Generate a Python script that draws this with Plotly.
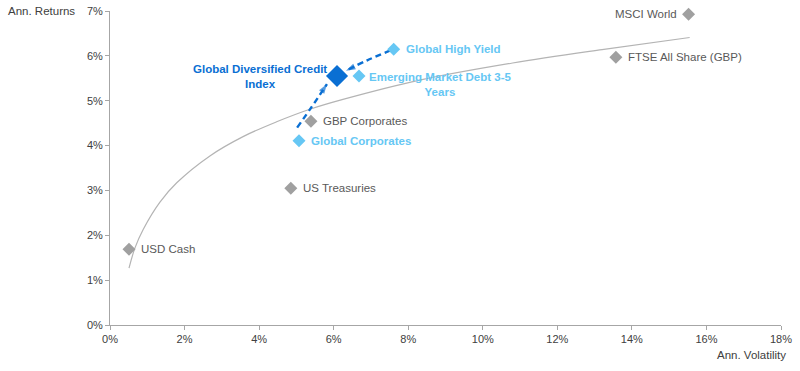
import plotly.graph_objects as go

# ---- data ----
grey_names = ["USD Cash", "US Treasuries", "GBP Corporates", "FTSE All Share (GBP)", "MSCI World"]
grey_vol = [0.51, 4.85, 5.39, 13.57, 15.52]
grey_ret = [1.69, 3.05, 4.54, 5.97, 6.93]

light_names = ["Global Corporates", "Emerging Market Debt 3-5<br>Years", "Global High Yield"]
light_vol = [5.07, 6.68, 7.61]
light_ret = [4.11, 5.55, 6.15]

gdc_name = "Global Diversified Credit<br>Index"
gdc_vol = [6.09]
gdc_ret = [5.55]

curve_vol = [0.51, 0.67, 0.89, 1.34, 1.79, 2.68, 3.57, 4.47, 5.36, 6.25, 8.31, 10.8, 13.2, 15.55]
curve_ret = [1.27, 1.72, 2.13, 2.74, 3.17, 3.77, 4.20, 4.53, 4.81, 5.03, 5.46, 5.84, 6.14, 6.41]

arrow1_vol = [5.02, 5.40, 5.82]
arrow1_ret = [4.40, 4.85, 5.37]
arrow2_vol = [7.52, 6.90, 6.33]
arrow2_ret = [6.12, 5.90, 5.67]

x_ticks = [0, 2, 4, 6, 8, 10, 12, 14, 16, 18]
y_ticks = [0, 1, 2, 3, 4, 5, 6, 7]

GREY = "#a0a0a0"
LIGHT = "#66c7f4"
DARK = "#0a6fd3"
TXT = "#595959"
FONT = "Liberation Sans, Arial, sans-serif"

fig = go.Figure()

fig.add_trace(go.Scatter(x=curve_vol, y=curve_ret, mode="lines",
                         line=dict(color="#b4b4b4", width=1.2, shape="spline", smoothing=1.0),
                         hoverinfo="skip"))

for av, ar in [(arrow1_vol, arrow1_ret), (arrow2_vol, arrow2_ret)]:
    fig.add_trace(go.Scatter(x=av, y=ar, mode="lines+markers",
                             line=dict(color=DARK, width=2.4, dash="6px,4px", shape="spline"),
                             marker=dict(symbol="arrow", angleref="previous",
                                         size=[0] * (len(av) - 1) + [10], color=DARK,
                                         line=dict(width=0)),
                             hoverinfo="skip"))

fig.add_trace(go.Scatter(x=grey_vol, y=grey_ret, mode="markers", cliponaxis=False,
                         marker=dict(symbol="diamond", size=10, color=GREY, line=dict(width=0))))
fig.add_trace(go.Scatter(x=light_vol, y=light_ret, mode="markers", cliponaxis=False,
                         marker=dict(symbol="diamond", size=10, color=LIGHT, line=dict(width=0))))
fig.add_trace(go.Scatter(x=gdc_vol, y=gdc_ret, mode="markers", cliponaxis=False,
                         marker=dict(symbol="diamond", size=17, color=DARK, line=dict(width=0))))

# labels
for n, xv, yv in zip(grey_names, grey_vol, grey_ret):
    if n == "MSCI World":
        fig.add_annotation(x=xv, y=yv, text=n, showarrow=False, xanchor="right",
                           xshift=-10, font=dict(size=11.5, color=TXT, family=FONT))
    else:
        fig.add_annotation(x=xv, y=yv, text=n, showarrow=False, xanchor="left",
                           xshift=10, font=dict(size=11.5, color=TXT, family=FONT))

for n, xv, yv in zip(light_names, light_vol, light_ret):
    if "<br>" in n:
        fig.add_annotation(x=xv, y=yv, text="<b>" + n + "</b>", showarrow=False,
                           xanchor="left", yanchor="top", align="center", xshift=8, yshift=7,
                           font=dict(size=11.5, color=LIGHT, family=FONT))
    else:
        fig.add_annotation(x=xv, y=yv, text="<b>" + n + "</b>", showarrow=False,
                           xanchor="left", xshift=10,
                           font=dict(size=11.5, color=LIGHT, family=FONT))

fig.add_annotation(x=gdc_vol[0], y=gdc_ret[0], text="<b>" + gdc_name + "</b>", showarrow=False,
                   xanchor="right", yanchor="middle", align="center", xshift=-8, yshift=0,
                   font=dict(size=11.5, color=DARK, family=FONT))

fig.add_annotation(xref="paper", yref="paper", x=-0.155, y=1.0, text="Ann. Returns",
                   showarrow=False, xanchor="left", yanchor="middle",
                   font=dict(size=11.5, color="#404040", family=FONT))
fig.add_annotation(xref="paper", yref="paper", x=1.0105, y=0, text="Ann. Volatility",
                   showarrow=False, xanchor="right", yanchor="top", yshift=-22,
                   font=dict(size=11.5, color="#404040", family=FONT))

axis_common = dict(showgrid=False, zeroline=False, showline=True, linecolor="#a6a6a6",
                   linewidth=1, ticks="outside", ticklen=4, tickcolor="#a6a6a6",
                   automargin=False,
                   tickfont=dict(size=11, color="#404040", family=FONT))

fig.update_xaxes(range=[0, 18], tickvals=x_ticks, ticktext=[f"{v}%" for v in x_ticks],
                 **axis_common)
fig.update_yaxes(range=[0, 7], tickvals=y_ticks, ticktext=[f"{v}%" for v in y_ticks],
                 **axis_common)

fig.update_layout(width=800, height=371, showlegend=False,
                  margin=dict(l=110, r=19, t=11, b=46),
                  plot_bgcolor="white", paper_bgcolor="white",
                  font=dict(family=FONT))

fig.write_html("out.html", config={"displayModeBar": False},
               post_script="document.body.style.margin='0';document.body.style.padding='0';")
